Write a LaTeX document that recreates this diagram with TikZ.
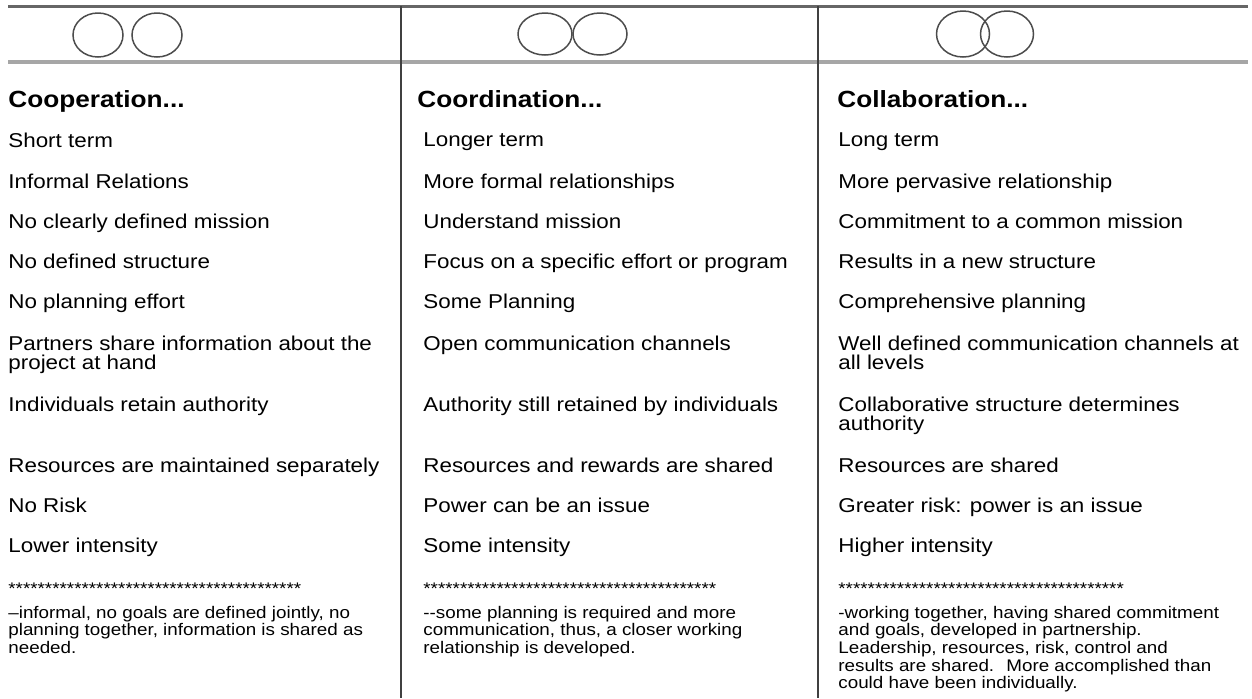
\documentclass[tikz,border=0pt]{standalone}
\usepackage{fontspec}
\setmainfont{Liberation Sans}[FakeStretch=1.12]
\usepackage{tikz}

\begin{document}
\begin{tikzpicture}[x=0.5pt,y=-0.5pt,
	ring/.style={draw=black!70,line width=0.75pt},
	item/.style={anchor=north west,inner sep=0pt,align=left,font=\fontsize{10}{9.3}\selectfont},
	head/.style={anchor=base west,inner sep=0pt,font=\fontsize{11.7}{12}\selectfont\bfseries},
	note/.style={anchor=north west,inner sep=0pt,align=left,font=\fontsize{8.4}{8.85}\selectfont}]
	\useasboundingbox (0,0) rectangle (1252,698);
	% rules
	\draw[black!60,line width=1.5pt] (8,6) -- (1248,6);
	\draw[black!35,line width=2pt] (8,62) -- (1248,62);
	\draw[black!75,line width=1pt] (401,6) -- (401,698);
	\draw[black!75,line width=1pt] (818,6) -- (818,698);
	% circles
	\draw[ring] (98,35) ellipse (25 and 22);
	\draw[ring] (157,35) ellipse (25 and 22);
	\draw[ring] (545,34) ellipse (27 and 21);
	\draw[ring] (600,34) ellipse (27 and 21);
	\draw[ring] (963,34) ellipse (26.5 and 23);
	\draw[ring] (1007,34) ellipse (26.5 and 23);
	% headings
	\node[head] (coop) at (8,107) {Cooperation...};
	\node[head] (coord) at (417,107) {Coordination...};
	\node[head] (collab) at (837,107) {Collaboration...};
	% rows
	\foreach \y/\a/\b/\c [count=\i] in {
		132.5/Short term/Longer term/Long term,
		173.5/Informal Relations/More formal relationships/More pervasive relationship,
		213.5/No clearly defined mission/Understand mission/Commitment to a common mission,
		253.5/No defined structure/Focus on a specific effort or program/Results in a new structure,
		293.5/No planning effort/Some Planning/Comprehensive planning,
		335.5/Partners share information about the\\project at hand/Open communication channels/Well defined communication channels at\\all levels,
		396.5/Individuals retain authority/Authority still retained by individuals/Collaborative structure determines\\authority,
		457.5/Resources are maintained separately/Resources and rewards are shared/Resources are shared,
		497.5/No Risk/Power can be an issue/Greater risk: power is an issue,
		537.5/Lower intensity/Some intensity/Higher intensity}{
		\node[item] (coop\i) at (8,\y) {\a};
		\node[item] (coord\i) at (423,\y) {\b};
		\node[item] (collab\i) at (838,\y) {\c};
	}
	% notes
	\node[note,anchor=base west] (coopstar) at (8,594) {****************************************};
	\node[note,anchor=base west] (coordstar) at (423,594) {****************************************};
	\node[note,anchor=base west] (collabstar) at (838,594) {***************************************};
	\node[note] (coopnote) at (8,605.5) {--informal, no goals are defined jointly, no\\planning together, information is shared as\\needed.};
	\node[note] (coordnote) at (423,605.5) {-{}-some planning is required and more\\communication, thus, a closer working\\relationship is developed.};
	\node[note] (collabnote) at (838,605.5) {-working together, having shared commitment\\and goals, developed in partnership.\\Leadership, resources, risk, control and\\results are shared.~ More accomplished than\\could have been individually.};
\end{tikzpicture}
\end{document}
